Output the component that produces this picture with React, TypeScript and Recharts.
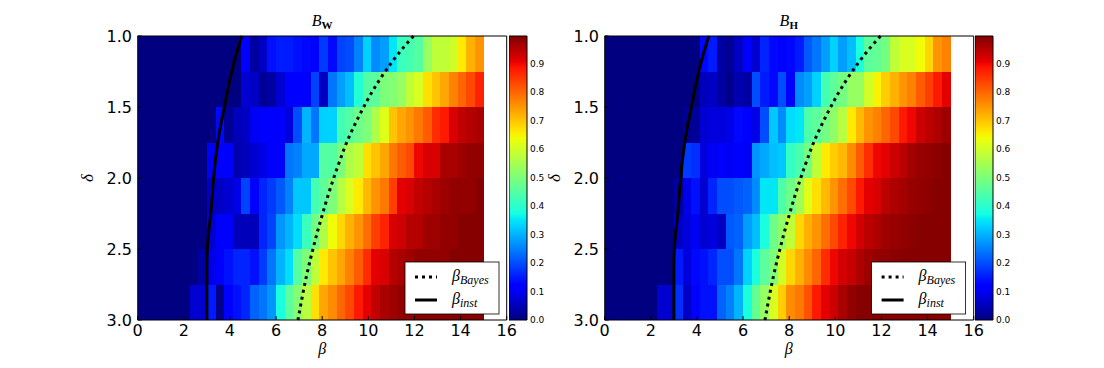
import { ComposedChart, Line, ReferenceArea, XAxis, YAxis } from "recharts";

// bin edges of the image grid
const betaEdges = [
  0, 0.375, 0.75, 1.125, 1.5, 1.875, 2.25, 2.625, 3, 3.375, 3.75, 4.125, 4.5, 4.875, 5.25, 5.625, 6, 6.375, 6.75,
  7.125, 7.5, 7.875, 8.25, 8.625, 9, 9.375, 9.75, 10.125, 10.5, 10.875, 11.25, 11.625, 12, 12.375, 12.75, 13.125,
  13.5, 13.875, 14.25, 14.625, 15,
];
const deltaEdges = [1.0, 1.25, 1.5, 1.75, 2.0, 2.25, 2.5, 2.75, 3.0];

const xTicks = [0, 2, 4, 6, 8, 10, 12, 14, 16];
const yTicks = [1.0, 1.5, 2.0, 2.5, 3.0];
const cbTicks = [0, 0.1, 0.2, 0.3, 0.4, 0.5, 0.6, 0.7, 0.8, 0.9];

// B_W, one row per delta bin (top = 1.0)
const bW = [
  [0, 0, 0, 0, 0, 0, 0, 0, 0, 0, 0, 0, 0.11, 0.03, 0.06, 0.14, 0.15, 0.15, 0.14, 0.13, 0.12, 0.18, 0.13, 0.19, 0.2, 0.25, 0.33, 0.26, 0.28, 0.35, 0.42, 0.43, 0.45, 0.53, 0.58, 0.58, 0.6, 0.66, 0.72, 0.75],
  [0, 0, 0, 0, 0, 0, 0, 0, 0, 0, 0, 0, 0.07, 0.06, 0.02, 0.03, 0.07, 0.11, 0.12, 0.12, 0.19, 0.06, 0.24, 0.28, 0.31, 0.39, 0.45, 0.46, 0.5, 0.51, 0.53, 0.58, 0.61, 0.67, 0.7, 0.73, 0.77, 0.8, 0.83, 0.87],
  [0, 0, 0, 0, 0, 0, 0, 0, 0, 0.13, 0.02, 0.05, 0.06, 0.1, 0.12, 0.12, 0.12, 0.08, 0.2, 0.3, 0.24, 0.33, 0.33, 0.43, 0.45, 0.48, 0.5, 0.56, 0.62, 0.7, 0.73, 0.75, 0.78, 0.81, 0.86, 0.88, 0.92, 0.94, 0.95, 0.96],
  [0, 0, 0, 0, 0, 0, 0, 0, 0.1, 0.12, 0.12, 0.04, 0.05, 0.07, 0.09, 0.12, 0.12, 0.24, 0.25, 0.29, 0.29, 0.45, 0.45, 0.5, 0.56, 0.58, 0.67, 0.7, 0.73, 0.78, 0.81, 0.83, 0.9, 0.92, 0.92, 0.96, 0.96, 0.97, 0.98, 0.98],
  [0, 0, 0, 0, 0, 0, 0, 0, 0.06, 0.06, 0.07, 0.09, 0.19, 0.12, 0.16, 0.18, 0.21, 0.25, 0.32, 0.32, 0.43, 0.46, 0.5, 0.57, 0.61, 0.66, 0.71, 0.75, 0.78, 0.84, 0.91, 0.92, 0.94, 0.95, 0.96, 0.97, 0.98, 0.98, 0.98, 0.99],
  [0, 0, 0, 0, 0, 0, 0, 0, 0.07, 0.11, 0.11, 0.05, 0.05, 0.05, 0.16, 0.19, 0.27, 0.3, 0.34, 0.42, 0.49, 0.56, 0.64, 0.68, 0.72, 0.75, 0.79, 0.84, 0.87, 0.92, 0.93, 0.95, 0.95, 0.97, 0.97, 0.98, 0.98, 0.99, 0.99, 0.99],
  [0, 0, 0, 0, 0, 0, 0, 0.03, 0.09, 0.12, 0.14, 0.16, 0.16, 0.14, 0.18, 0.24, 0.3, 0.34, 0.45, 0.5, 0.58, 0.66, 0.7, 0.73, 0.77, 0.81, 0.86, 0.91, 0.92, 0.95, 0.96, 0.97, 0.98, 0.98, 0.98, 0.98, 0.99, 0.99, 0.99, 0.99],
  [0, 0, 0, 0, 0, 0, 0.07, 0.07, 0.15, 0.01, 0.12, 0.14, 0.16, 0.22, 0.24, 0.27, 0.38, 0.46, 0.51, 0.57, 0.67, 0.73, 0.76, 0.8, 0.83, 0.88, 0.91, 0.94, 0.96, 0.97, 0.98, 0.98, 0.99, 0.99, 0.99, 0.99, 0.99, 0.99, 0.99, 0.99],
];

// B_H
const bH = [
  [0, 0, 0, 0, 0, 0, 0, 0, 0, 0, 0, 0.13, 0.15, 0.03, 0.02, 0.06, 0.12, 0.07, 0.16, 0.13, 0.12, 0.13, 0.15, 0.21, 0.24, 0.28, 0.33, 0.28, 0.31, 0.38, 0.46, 0.47, 0.49, 0.58, 0.61, 0.61, 0.64, 0.68, 0.75, 0.77],
  [0, 0, 0, 0, 0, 0, 0, 0, 0, 0, 0, 0.05, 0.06, 0.03, 0.01, 0.04, 0.03, 0.2, 0.15, 0.13, 0.2, 0.12, 0.26, 0.28, 0.33, 0.43, 0.46, 0.49, 0.53, 0.53, 0.6, 0.65, 0.69, 0.72, 0.75, 0.77, 0.81, 0.84, 0.88, 0.91],
  [0, 0, 0, 0, 0, 0, 0, 0, 0, 0.02, 0.02, 0.07, 0.08, 0.08, 0.09, 0.13, 0.12, 0.09, 0.2, 0.32, 0.26, 0.34, 0.35, 0.44, 0.46, 0.49, 0.52, 0.57, 0.66, 0.71, 0.75, 0.77, 0.8, 0.83, 0.88, 0.9, 0.93, 0.945, 0.955, 0.97],
  [0, 0, 0, 0, 0, 0, 0, 0, 0, 0.18, 0.17, 0.08, 0.1, 0.11, 0.1, 0.12, 0.1, 0.27, 0.29, 0.31, 0.32, 0.41, 0.44, 0.49, 0.58, 0.66, 0.69, 0.71, 0.76, 0.81, 0.86, 0.9, 0.91, 0.93, 0.945, 0.965, 0.975, 0.98, 0.985, 0.99],
  [0, 0, 0, 0, 0, 0, 0, 0, 0.03, 0.09, 0.14, 0.07, 0.16, 0.2, 0.2, 0.21, 0.22, 0.26, 0.35, 0.35, 0.44, 0.48, 0.54, 0.62, 0.67, 0.71, 0.75, 0.79, 0.83, 0.88, 0.91, 0.92, 0.945, 0.955, 0.965, 0.975, 0.98, 0.985, 0.99, 0.99],
  [0, 0, 0, 0, 0, 0, 0, 0, 0.06, 0.08, 0.1, 0.07, 0.08, 0.06, 0.21, 0.22, 0.28, 0.31, 0.38, 0.48, 0.52, 0.58, 0.68, 0.72, 0.75, 0.79, 0.83, 0.87, 0.9, 0.925, 0.945, 0.955, 0.97, 0.975, 0.98, 0.985, 0.99, 0.99, 0.99, 0.99],
  [0, 0, 0, 0, 0, 0, 0, 0, 0.15, 0.08, 0.13, 0.14, 0.16, 0.2, 0.2, 0.24, 0.33, 0.38, 0.46, 0.5, 0.6, 0.68, 0.72, 0.76, 0.8, 0.86, 0.9, 0.925, 0.935, 0.955, 0.97, 0.98, 0.98, 0.985, 0.99, 0.99, 0.99, 0.99, 0.99, 0.99],
  [0, 0, 0, 0, 0, 0, 0.07, 0.07, 0.17, 0.06, 0.12, 0.14, 0.14, 0.22, 0.25, 0.3, 0.38, 0.47, 0.53, 0.61, 0.69, 0.76, 0.78, 0.82, 0.88, 0.91, 0.93, 0.96, 0.98, 0.99, 0.99, 0.99, 0.99, 0.99, 0.99, 0.99, 0.99, 0.99, 0.99, 0.99],
];

// threshold curves
const curveDelta = [1.0, 1.125, 1.25, 1.375, 1.5, 1.625, 1.75, 1.875, 2.0, 2.125, 2.25, 2.375, 2.5, 2.625, 2.75, 2.875, 3.0];
const betaBayes = [11.96, 11.3, 10.73, 10.23, 9.8, 9.41, 9.06, 8.77, 8.5, 8.25, 8.02, 7.8, 7.6, 7.41, 7.24, 7.09, 6.95];
const betaInst = [4.52, 4.28, 4.08, 3.91, 3.76, 3.6, 3.47, 3.37, 3.29, 3.23, 3.17, 3.08, 3.02, 3.0, 3.0, 3.0, 3.0];

const VMAX = 0.996;

const interp = (t: number, xs: number[], ys: number[]) => {
  for (let i = 1; i < xs.length; i++) {
    if (t <= xs[i]) return ys[i - 1] + ((ys[i] - ys[i - 1]) * (t - xs[i - 1])) / (xs[i] - xs[i - 1]);
  }
  return ys[ys.length - 1];
};

const jet = (v: number) => {
  const t = Math.max(0, Math.min(1, v / VMAX));
  const r = interp(t, [0, 0.35, 0.66, 0.89, 1], [0, 0, 1, 1, 0.5]);
  const g = interp(t, [0, 0.125, 0.375, 0.64, 0.91, 1], [0, 0, 1, 1, 0, 0]);
  const b = interp(t, [0, 0.11, 0.34, 0.65, 1], [0.5, 1, 1, 0, 0]);
  return `rgb(${Math.round(r * 255)},${Math.round(g * 255)},${Math.round(b * 255)})`;
};

const jetStops = [0, 0.11, 0.125, 0.34, 0.35, 0.375, 0.64, 0.65, 0.66, 0.89, 0.91, 1];

const bayesData = curveDelta.map((d, i) => ({ beta: betaBayes[i], delta: d }));
const instData = curveDelta.map((d, i) => ({ beta: betaInst[i], delta: d }));
// two end points so the colorbar chart has something to scale
const cbData = [
  { x: 0, v: 0 },
  { x: 1, v: VMAX },
];

const TICK_FONT = "DejaVu Sans, sans-serif";
const MATH_FONT = "Liberation Serif, DejaVu Serif, serif";

function Heatmap({ rows, left }: { rows: number[][]; left: number }) {
  return (
    <div style={{ position: "absolute", left, top: 0 }}>
      <ComposedChart width={552} height={368} margin={{ top: 36, right: 45.3, bottom: 12, left: 97.7 }}>
        <XAxis
          type="number"
          dataKey="beta"
          domain={[0, 16]}
          ticks={xTicks}
          height={36}
          axisLine={false}
          tickSize={-4}
          tickMargin={8.6}
          tickLine={{ stroke: "#000" }}
          tick={{ fill: "#000", fontSize: 16, fontFamily: TICK_FONT }}
        />
        <XAxis
          xAxisId="top"
          orientation="top"
          type="number"
          domain={[0, 16]}
          ticks={xTicks}
          height={0}
          axisLine={false}
          tickSize={-4}
          tickLine={{ stroke: "#000" }}
          tickFormatter={() => ""}
        />
        <YAxis
          type="number"
          domain={[1, 3]}
          reversed
          ticks={yTicks}
          width={40}
          axisLine={false}
          tickSize={-4}
          tickMargin={9.7}
          tickLine={{ stroke: "#000" }}
          tickFormatter={(v: number) => v.toFixed(1)}
          tick={{ fill: "#000", fontSize: 16, fontFamily: TICK_FONT }}
        />
        <YAxis
          yAxisId="right"
          orientation="right"
          type="number"
          domain={[1, 3]}
          reversed
          ticks={yTicks}
          width={0}
          axisLine={false}
          tickSize={-4}
          tickLine={{ stroke: "#000" }}
          tickFormatter={() => ""}
        />
        {rows.map((row, r) =>
          row.map((v, c) => (
            <ReferenceArea
              key={`${r}-${c}`}
              x1={betaEdges[c]}
              x2={betaEdges[c + 1]}
              y1={deltaEdges[r]}
              y2={deltaEdges[r + 1]}
              fill={jet(v)}
              fillOpacity={1}
              stroke="none"
              shapeRendering="crispEdges"
            />
          ))
        )}
        <ReferenceArea x1={0} x2={16} y1={1} y2={3} fill="none" stroke="#000" strokeWidth={1} />
        <Line
          data={instData}
          dataKey="delta"
          type="monotoneY"
          stroke="#000"
          strokeWidth={3}
          dot={false}
          activeDot={false}
          isAnimationActive={false}
        />
        <Line
          data={bayesData}
          dataKey="delta"
          type="monotoneY"
          stroke="#000"
          strokeWidth={3}
          strokeDasharray="3 4"
          dot={false}
          activeDot={false}
          isAnimationActive={false}
        />
      </ComposedChart>
    </div>
  );
}

function Colorbar({ left, id }: { left: number; id: string }) {
  return (
    <div style={{ position: "absolute", left, top: 0 }}>
      <ComposedChart data={cbData} width={48} height={368} margin={{ top: 36, right: 0, bottom: 48, left: 0 }}>
        <defs>
          <linearGradient id={id} x1="0" y1="1" x2="0" y2="0">
            {jetStops.map((s) => (
              <stop key={s} offset={s} stopColor={jet(s * VMAX)} />
            ))}
          </linearGradient>
        </defs>
        <XAxis type="number" dataKey="x" domain={[0, 1]} hide />
        <YAxis
          orientation="right"
          type="number"
          domain={[0, VMAX]}
          ticks={cbTicks}
          width={30}
          axisLine={false}
          tickLine={false}
          tickSize={0}
          tickMargin={3}
          tickFormatter={(v: number) => v.toFixed(1)}
          tick={{ fill: "#000", fontSize: 9, fontFamily: TICK_FONT }}
        />
        <ReferenceArea x1={0} x2={1} y1={0} y2={VMAX} fill={`url(#${id})`} fillOpacity={1} stroke="#000" strokeWidth={1} />
        <Line dataKey="v" stroke="none" dot={false} activeDot={false} isAnimationActive={false} />
      </ComposedChart>
    </div>
  );
}

function Annotations({ dx, sub }: { dx: number; sub: string }) {
  return (
    <g transform={`translate(${dx},0)`} fill="#000">
      <text x={322.2} y={26} textAnchor="middle" fontFamily={MATH_FONT} fontSize={16}>
        <tspan fontStyle="italic">B</tspan>
        <tspan fontWeight="bold" fontSize={11} dy={2.5}>
          {sub}
        </tspan>
      </text>
      <text x={322.2} y={354} textAnchor="middle" fontFamily={MATH_FONT} fontStyle="italic" fontSize={16}>
        β
      </text>
      <text
        x={93}
        y={178}
        textAnchor="middle"
        fontFamily={MATH_FONT}
        fontStyle="italic"
        fontSize={17}
        transform="rotate(-90 93 178)"
      >
        δ
      </text>
      <rect x={405} y={262} width={94} height={52} fill="#fff" stroke="#000" strokeWidth={0.8} />
      <line x1={415} x2={437} y1={277} y2={277} stroke="#000" strokeWidth={3} strokeDasharray="3 4" />
      <text x={452} y={281} fontFamily={MATH_FONT} fontStyle="italic" fontSize={16}>
        β
        <tspan fontSize={12} dy={3}>
          Bayes
        </tspan>
      </text>
      <line x1={415} x2={437} y1={300} y2={300} stroke="#000" strokeWidth={3} />
      <text x={452} y={304} fontFamily={MATH_FONT} fontStyle="italic" fontSize={16}>
        β
        <tspan fontSize={12} dy={3}>
          inst
        </tspan>
      </text>
    </g>
  );
}

const PANEL_SHIFT = 466.6;

export default function App() {
  return (
    <div style={{ position: "absolute", left: 0, top: 0, width: 1104, height: 368, background: "#fff", overflow: "hidden" }}>
      <Heatmap rows={bW} left={0} />
      <Colorbar left={508.7} id="jetW" />
      <Heatmap rows={bH} left={PANEL_SHIFT} />
      <Colorbar left={508.7 + PANEL_SHIFT} id="jetH" />
      <svg width={1104} height={368} style={{ position: "absolute", left: 0, top: 0, pointerEvents: "none" }}>
        <Annotations dx={0} sub="W" />
        <Annotations dx={PANEL_SHIFT} sub="H" />
      </svg>
    </div>
  );
}
